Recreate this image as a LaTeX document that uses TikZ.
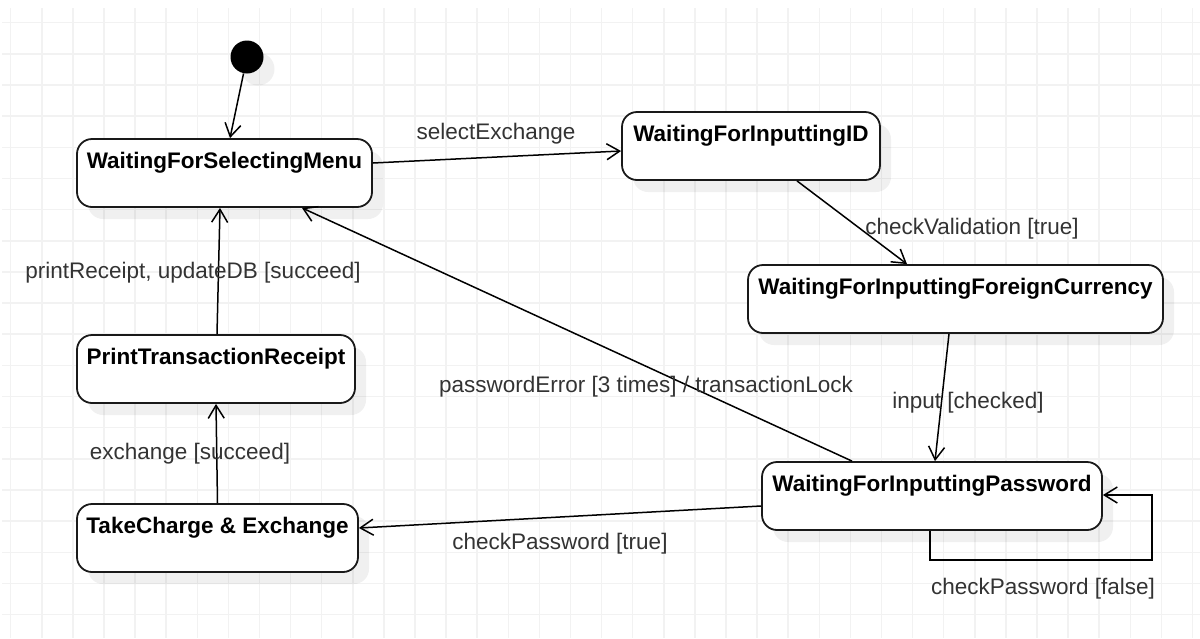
\documentclass[tikz,border=0pt]{standalone}
\usepackage{fontspec}
\setmainfont{Liberation Sans}
\usetikzlibrary{arrows.meta,shadows,calc}
\definecolor{gridc}{HTML}{F2F2F2}
\definecolor{labc}{HTML}{333333}
\begin{document}
\begin{tikzpicture}[x=0.5pt,y=-0.5pt,
  state/.style={draw=black!90, line width=0.9pt, rounded corners=7.5pt, fill=white,
    minimum height=34pt, inner sep=0pt,
    general shadow={shadow xshift=5.5pt, shadow yshift=-6pt, fill=black, opacity=0.06}},
  title/.style={label={[font=\fontsize{11.25pt}{13pt}\selectfont\bfseries, anchor=center, yshift=-12.5pt]north:#1}},
  lab/.style={font=\fontsize{11.25pt}{13pt}\selectfont, text=labc, inner sep=0pt},
  tr/.style={line width=0.75pt, -{Straight Barb[length=6.5pt,width=8pt]}}
]
\useasboundingbox (0,0) rectangle (1200,638);
% grid
\begin{scope}
\clip (2,8) rectangle (1200,638);
\foreach \i in {0,...,38} {\draw[gridc, line width=0.75pt] ({10.7+31.1*\i},8) -- ({10.7+31.1*\i},638);}
\foreach \j in {0,...,19} {\draw[gridc, line width=0.75pt] (2,{22.7+31.15*\j}) -- (1200,{22.7+31.15*\j});}
\end{scope}
% initial state
\node[circle, fill=black, minimum size=16.5pt, inner sep=0pt,
  general shadow={shadow xshift=5.5pt, shadow yshift=-6pt, fill=black, opacity=0.06}] (init) at (247,57) {};
% states
\node[state, minimum width=147.5pt, title=WaitingForSelectingMenu] (menu) at (224.5,173) {};
\node[state, minimum width=129pt, title=WaitingForInputtingID] (id) at (751,146) {};
\node[state, minimum width=207.5pt, title=WaitingForInputtingForeignCurrency] (fc) at (955.5,299) {};
\node[state, minimum width=170pt, title=WaitingForInputtingPassword] (pw) at (932,496) {};
\node[state, minimum width=139pt, title=PrintTransactionReceipt] (pr) at (216,369) {};
\node[state, minimum width=140.5pt, title=TakeCharge \& Exchange] (tc) at (217.5,538) {};
% transitions
\draw[tr] (init) -- ([xshift=2.75pt]menu.north);
\draw[tr] ([yshift=5pt]menu.east) -- ([yshift=-2.5pt]id.west);
\draw[tr] ([xshift=23pt]id.south) -- ([xshift=-24.25pt]fc.north);
\draw[tr] ([xshift=-3.25pt]fc.south) -- ([xshift=1.5pt]pw.north);
\draw[tr] ([xshift=-40pt]pw.north) -- ([xshift=38.75pt]menu.south);
\draw[tr] ([yshift=-5pt]pw.west) -- ([yshift=5pt]tc.east);
\draw[tr] (tc.north) -- (pr.south);
\draw[tr] ([xshift=0.5pt]pr.north) -- ([xshift=-2.25pt]menu.south);
\coordinate (lp) at (1152,560);
\draw[tr] ([xshift=-1pt]pw.south) |- (lp) |- ([yshift=0.5pt]pw.east);
% labels
\node[lab] (l1) at (496,134) {selectExchange};
\node[lab] (l2) at (972,229) {checkValidation [true]};
\node[lab] (l3) at (968,403) {input [checked]};
\node[lab] (l4) at (646,387) {passwordError [3 times] / transactionLock};
\node[lab] (l5) at (560,544) {checkPassword [true]};
\node[lab] (l6) at (190,454) {exchange [succeed]};
\node[lab] (l7) at (193,273) {printReceipt, updateDB [succeed]};
\node[lab] (l8) at (1043,589) {checkPassword [false]};
\end{tikzpicture}
\end{document}
